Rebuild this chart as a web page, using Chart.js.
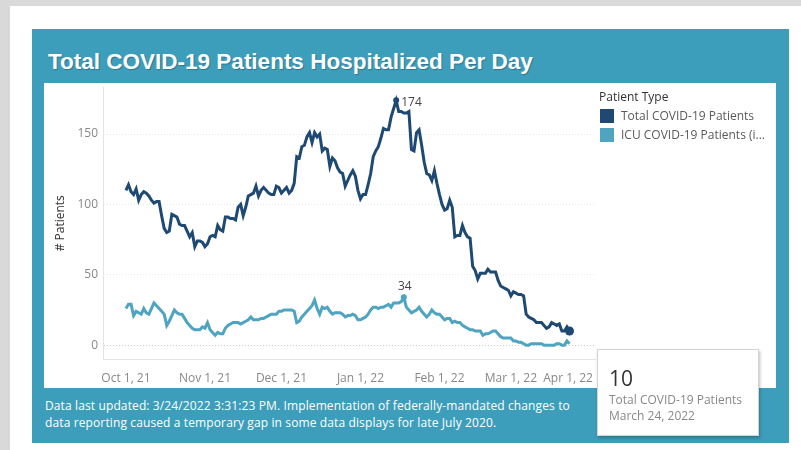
<!DOCTYPE html>
<html>
<head>
<meta charset="utf-8">
<title>Total COVID-19 Patients Hospitalized Per Day</title>
<script src="https://cdn.jsdelivr.net/npm/chart.js@4.4.1/dist/chart.umd.min.js"></script>
<style>
  html, body { margin: 0; padding: 0; }
  body {
    width: 801px; height: 450px; position: relative; overflow: hidden;
    background: #d9d9d9; font-family: 'Open Sans', sans-serif;
  }
  .frame { position: absolute; left: 10px; top: 6px; width: 791px; height: 444px; background: #fff; }
  .panel { position: absolute; left: 32px; top: 29px; width: 757px; height: 414px; background: #3d9ebb; }
  .title {
    position: absolute; left: 48px; top: 49px; line-height: 26px;
    font: bold 22.5px 'Liberation Sans', sans-serif; color: #fff;
    text-shadow: 1px 1px 1px rgba(0, 0, 0, 0.25); white-space: nowrap;
  }
  .inner { position: absolute; left: 44px; top: 83px; width: 732px; height: 305px; background: #fff; }
  .chart-wrap { position: absolute; left: 44px; top: 83px; width: 556px; height: 305px; }
  .legend { position: absolute; left: 599px; top: 89px; font-size: 12px; }
  .legend .head { color: #333; line-height: 15px; height: 15px; margin-bottom: 5px; }
  .legend .item { height: 19px; line-height: 14px; color: #5a5a5a; white-space: nowrap; }
  .legend .sw { display: inline-block; width: 14px; height: 14px; vertical-align: top; margin-right: 7px; margin-left: 1px; }
  .footer {
    position: absolute; left: 45px; top: 397px; font-size: 12px; line-height: 17px;
    letter-spacing: 0.12px; color: #fff; white-space: nowrap;
  }
  .tip {
    position: absolute; left: 597px; top: 349px; width: 160px; height: 85px;
    background: #fff; border: 1px solid #d4d4d4; box-shadow: 1px 2px 3px rgba(0, 0, 0, 0.25);
  }
  .tip .val { position: absolute; left: 11px; top: 15px; font-size: 21px; line-height: 26px; color: #333; }
  .tip .line { position: absolute; left: 11px; font-size: 12px; line-height: 16px; color: #888; white-space: nowrap; }
</style>
</head>
<body>
<div class="frame"></div>
<div class="panel"></div>
<div class="title">Total COVID-19 Patients Hospitalized Per Day</div>
<div class="inner"></div>
<div class="chart-wrap"><canvas id="hospChart"></canvas></div>

<div class="legend">
  <div class="head">Patient Type</div>
  <div class="item"><span class="sw" style="background:#1e4973"></span>Total COVID-19 Patients</div>
  <div class="item"><span class="sw" style="background:#4ea4c1"></span>ICU COVID-19 Patients (i...</div>
</div>

<div class="footer">
  Data last updated: 3/24/2022 3:31:23 PM. Implementation of federally-mandated changes to<br>
  data reporting caused a temporary gap in some data displays for late July 2020.
</div>

<div class="tip">
  <div class="val">10</div>
  <div class="line" style="top:42px">Total COVID-19 Patients</div>
  <div class="line" style="top:58px">March 24, 2022</div>
</div>

<script>
// --- Data: one value per day, Oct 1, 2021 (day 0) to Mar 24, 2022 (day 174) ---
const totalPatients = [
  110, 114, 109, 107, 111, 103, 107, 109, 108, 106,
  103, 101, 102, 102, 92, 83, 80, 81, 93, 92,
  91, 86, 85, 85, 81, 77, 80, 70, 74, 74,
  73, 70, 72, 77, 78, 77, 85, 82, 81, 91,
  91, 90, 90, 89, 98, 100, 92, 98, 106, 107,
  108, 113, 106, 110, 112, 110, 108, 107, 107, 113,
  112, 108, 110, 112, 108, 110, 115, 134, 133, 141,
  142, 148, 151, 144, 151, 148, 150, 138, 140, 139,
  127, 133, 131, 126, 123, 122, 113, 117, 121, 124,
  120, 110, 104, 107, 107, 114, 122, 134, 138, 141,
  147, 154, 153, 153, 162, 168, 174, 166, 166, 165,
  165, 166, 139, 138, 151, 153, 142, 130, 122, 121,
  117, 124, 115, 107, 100, 96, 97, 103, 98, 77,
  78, 78, 85, 80, 77, 76, 56, 53, 47, 51,
  51, 51, 54, 52, 52, 52, 46, 42, 41, 40,
  39, 35, 38, 37, 36, 36, 35, 22, 20, 19,
  18, 16, 16, 16, 14, 12, 13, 16, 15, 14,
  15, 10, 10, 13, 10
];

const icuPatients = [
  26, 29, 29, 21, 24, 23, 22, 26, 23, 22,
  26, 30, 28, 26, 24, 22, 14, 17, 21, 25,
  23, 22, 22, 19, 16, 14, 12, 11, 11, 11,
  13, 12, 16, 11, 9, 7, 9, 8, 8, 12,
  14, 15, 16, 16, 16, 15, 16, 17, 18, 20,
  18, 18, 18, 19, 19, 20, 21, 22, 22, 22,
  24, 24, 25, 25, 25, 25, 24, 16, 17, 20,
  22, 24, 26, 28, 32, 26, 22, 27, 26, 27,
  24, 22, 23, 23, 23, 22, 20, 21, 21, 22,
  21, 18, 18, 19, 20, 22, 25, 27, 27, 26,
  27, 27, 28, 29, 27, 30, 30, 30, 31, 34,
  27, 25, 23, 24, 25, 27, 24, 22, 20, 22,
  25, 23, 22, 22, 20, 18, 19, 19, 16, 17,
  16, 16, 14, 13, 12, 11, 11, 10, 10, 10,
  7, 8, 8, 9, 10, 10, 8, 6, 5, 5,
  5, 5, 3, 3, 2, 2, 1, 0, 0, 1,
  1, 1, 1, 1, 0, 0, 0, 0, 0, 1,
  1, 0, 0, 3, 1
];

const seriesNames = ['Total COVID-19 Patients', 'ICU COVID-19 Patients (in ICU)'];

// x axis ticks: day offsets of each month start, and their labels
const monthTicks = [0, 31, 61, 92, 123, 151, 182];
const monthLabels = ['Oct 1, 21', 'Nov 1, 21', 'Dec 1, 21', 'Jan 1, 22', 'Feb 1, 22', 'Mar 1, 22', 'Apr 1, 22'];
const yTicks = [0, 50, 100, 150];

// --- Styles ---
const TOTAL_COLOR = '#1e4973';
const ICU_COLOR = '#4ea4c1';
const FONT = "'Open Sans', sans-serif";

const totalPeak = totalPatients.indexOf(Math.max(...totalPatients));
const icuPeak = icuPatients.indexOf(Math.max(...icuPatients));
const lastIdx = totalPatients.length - 1;

const toPoints = (arr) => arr.map((v, i) => ({ x: i, y: v }));

// value labels next to the highlighted marks
const peakLabels = {
  id: 'peakLabels',
  afterDatasetsDraw(chart) {
    const ctx = chart.ctx;
    ctx.save();
    ctx.font = '12px ' + FONT;
    ctx.fillStyle = '#444';

    const t = chart.getDatasetMeta(0).data[totalPeak];
    ctx.textAlign = 'left';
    ctx.textBaseline = 'middle';
    ctx.fillText(String(totalPatients[totalPeak]), t.x + 5, t.y + 2);

    const u = chart.getDatasetMeta(1).data[icuPeak];
    ctx.textAlign = 'center';
    ctx.textBaseline = 'bottom';
    ctx.fillText(String(icuPatients[icuPeak]), u.x + 1, u.y - 5);
    ctx.restore();
  }
};

Chart.defaults.font.family = FONT;
Chart.defaults.font.size = 12;

new Chart(document.getElementById('hospChart'), {
  type: 'line',
  data: {
    datasets: [
      {
        label: seriesNames[0],
        data: toPoints(totalPatients),
        borderColor: TOTAL_COLOR,
        backgroundColor: TOTAL_COLOR,
        borderWidth: 3,
        tension: 0,
        pointRadius: (c) => (c.dataIndex === lastIdx ? 4.5 : c.dataIndex === totalPeak ? 3 : 0),
        pointBorderWidth: 0,
        pointHoverRadius: 0
      },
      {
        label: seriesNames[1],
        data: toPoints(icuPatients),
        borderColor: ICU_COLOR,
        backgroundColor: ICU_COLOR,
        borderWidth: 3,
        tension: 0,
        pointRadius: (c) => (c.dataIndex === icuPeak ? 3 : 0),
        pointBorderWidth: 0,
        pointHoverRadius: 0
      }
    ]
  },
  options: {
    responsive: true,
    maintainAspectRatio: false,
    animation: false,
    layout: { padding: { top: 2, right: 5, left: 0, bottom: 0 } },
    plugins: {
      legend: { display: false },
      tooltip: { enabled: false }
    },
    scales: {
      x: {
        type: 'linear',
        min: -9,
        max: 184,
        afterBuildTicks: (axis) => { axis.ticks = monthTicks.map((v) => ({ value: v })); },
        afterFit: (axis) => { axis.height = 29; axis.paddingLeft = 0; axis.paddingRight = 0; },
        grid: { display: false },
        border: { display: true, color: '#e4e4e4', width: 1 },
        ticks: {
          autoSkip: false,
          maxRotation: 0,
          minRotation: 0,
          padding: 4,
          color: '#888',
          // last label sits flush with the right edge, as in the dashboard
          callback: (v, i) => (i === monthLabels.length - 1 ? monthLabels[i] + ' '.repeat(14) : monthLabels[i])
        }
      },
      y: {
        min: -9.86,
        max: 183.1,
        afterBuildTicks: (axis) => { axis.ticks = yTicks.map((v) => ({ value: v })); },
        afterFit: (axis) => { axis.width = 59; axis.paddingTop = 0; axis.paddingBottom = 0; },
        grid: {
          drawTicks: false,
          color: (c) => (c.tick && c.tick.value === 0 ? '#cfcfcf' : '#e9e9e9')
        },
        border: { display: true, color: '#e4e4e4', width: 1, dash: [1, 2] },
        ticks: { padding: 5, color: '#888' },
        title: {
          display: true,
          text: '# Patients',
          color: '#333',
          font: { size: 12 },
          padding: { top: 9, bottom: 0 }
        }
      }
    }
  },
  plugins: [peakLabels]
});
</script>
</body>
</html>
